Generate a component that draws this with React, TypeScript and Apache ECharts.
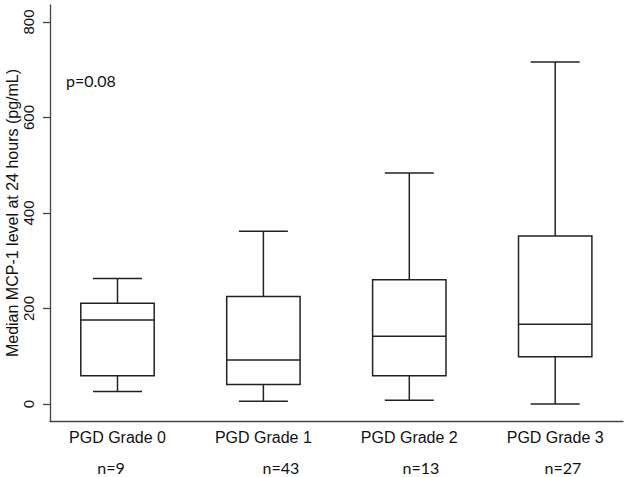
import React, { useEffect, useRef } from "react";
import * as echarts from "echarts";

const categories = ["PGD Grade 0", "PGD Grade 1", "PGD Grade 2", "PGD Grade 3"];
const whiskerLow = [26, 6, 8, 0];
const q1 = [59, 41, 59, 99];
const median = [176, 92, 142, 167];
const q3 = [211, 225, 260, 352];
const whiskerHigh = [263, 362, 484, 716];
const nCounts = [9, 43, 13, 27];
const yTicks = [0, 200, 400, 600, 800];
const pValueText = "p=0.08";

// annotation positions (pixels) for the n= labels
const nLabelX = [111, 281, 421, 563];

const LINE = "#222";
const AXIS = "#444";

export default function App() {
  const ref = useRef<HTMLDivElement>(null);
  useEffect(() => {
    if (!ref.current) return;
    const chart = echarts.init(ref.current, null, { renderer: "svg" });
    const boxData = categories.map((_, i) => [
      i + 1,
      whiskerLow[i],
      q1[i],
      median[i],
      q3[i],
      whiskerHigh[i],
    ]);
    const option: any = {
      animation: false,
      backgroundColor: "#fff",
      grid: {
        left: 50,
        right: 6,
        top: 5,
        bottom: 56,
        containLabel: false,
        outerBoundsMode: "none",
      },
      xAxis: {
        type: "value",
        min: 0.5374,
        max: 4.4647,
        axisLine: { show: true, onZero: false, lineStyle: { color: AXIS, width: 1.3 } },
        axisTick: { show: false },
        splitLine: { show: false },
        axisLabel: {
          customValues: [1, 2, 3, 4],
          formatter: (v: number) => categories[Math.round(v) - 1] ?? "",
          fontSize: 16,
          color: "#111",
          fontFamily: "Liberation Sans, Arial, sans-serif",
          margin: 8,
        },
      },
      yAxis: {
        type: "value",
        min: -35.6,
        max: 835.6,
        name: "Median MCP-1 level at 24 hours (pg/mL)",
        nameLocation: "middle",
        nameGap: 30,
        nameMoveOverlap: false,
        nameTextStyle: {
          fontSize: 16,
          color: "#111",
          fontFamily: "Liberation Sans, Arial, sans-serif",
        },
        axisLine: { show: true, onZero: false, lineStyle: { color: AXIS, width: 1.3 } },
        axisTick: {
          show: true,
          customValues: yTicks,
          length: 7,
          lineStyle: { color: AXIS, width: 1.3 },
        },
        splitLine: { show: false },
        axisLabel: {
          customValues: yTicks,
          rotate: 90,
          fontSize: 15,
          color: "#111",
          fontFamily: "Liberation Sans, Arial, sans-serif",
          margin: 14,
        },
      },
      graphic: [
        {
          type: "text",
          left: 66,
          top: 72,
          style: {
            text: pValueText,
            font: "16px Lato, 'Open Sans', sans-serif",
            fill: "#111",
          },
        },
        ...nCounts.map((n, i) => ({
          type: "text",
          x: nLabelX[i],
          y: 467,
          style: {
            text: "n=" + n,
            font: "16px Lato, 'Open Sans', sans-serif",
            fill: "#111",
            textAlign: "center",
            textVerticalAlign: "middle",
          },
        })),
      ],
      series: [
        {
          type: "custom",
          data: boxData,
          encode: { x: 0, y: [1, 2, 3, 4, 5] },
          renderItem: (params: any, api: any) => {
            const x = api.value(0);
            const band = api.size([1, 0])[0];
            const boxW = band * 0.503;
            const capW = band * 0.336;
            const pLow = api.coord([x, api.value(1)]);
            const pQ1 = api.coord([x, api.value(2)]);
            const pMed = api.coord([x, api.value(3)]);
            const pQ3 = api.coord([x, api.value(4)]);
            const pHigh = api.coord([x, api.value(5)]);
            const cx = pMed[0];
            const style = { stroke: LINE, lineWidth: 1.5, fill: "none" };
            return {
              type: "group",
              children: [
                {
                  type: "rect",
                  shape: { x: cx - boxW / 2, y: pQ3[1], width: boxW, height: pQ1[1] - pQ3[1] },
                  style: { ...style },
                },
                {
                  type: "line",
                  shape: { x1: cx - boxW / 2, y1: pMed[1], x2: cx + boxW / 2, y2: pMed[1] },
                  style: { ...style },
                },
                {
                  type: "line",
                  shape: { x1: cx, y1: pQ3[1], x2: cx, y2: pHigh[1] },
                  style: { ...style },
                },
                {
                  type: "line",
                  shape: { x1: cx, y1: pQ1[1], x2: cx, y2: pLow[1] },
                  style: { ...style },
                },
                {
                  type: "line",
                  shape: { x1: cx - capW / 2, y1: pHigh[1], x2: cx + capW / 2, y2: pHigh[1] },
                  style: { ...style },
                },
                {
                  type: "line",
                  shape: { x1: cx - capW / 2, y1: pLow[1], x2: cx + capW / 2, y2: pLow[1] },
                  style: { ...style },
                },
              ],
            };
          },
        },
      ],
    };
    chart.setOption(option);
    return () => chart.dispose();
  }, []);
  return (
    <div
      ref={ref}
      style={{ position: "fixed", left: 0, top: 0, width: 629, height: 477, background: "#fff" }}
    />
  );
}
